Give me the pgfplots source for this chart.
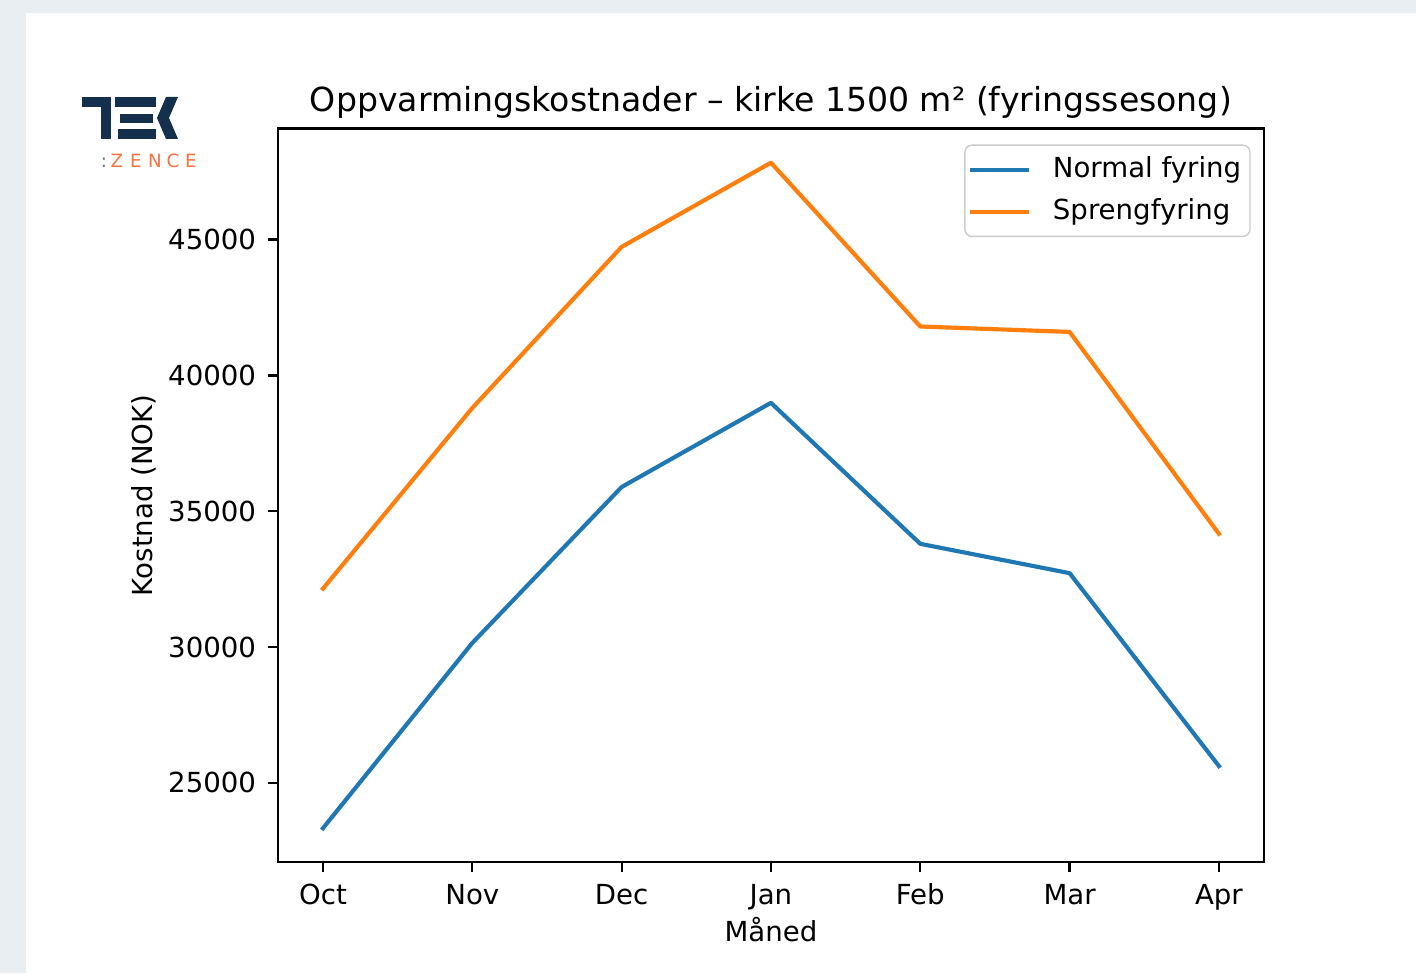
\documentclass[border=0pt]{standalone}
\usepackage{pgfplots}
\pgfplotsset{compat=1.18}
\usepackage{fontspec}
\setmainfont{DejaVu Sans}
\definecolor{pagebg}{HTML}{E8EEF1}
\definecolor{tabblue}{HTML}{1F77B4}
\definecolor{taborange}{HTML}{FF7F0E}
\definecolor{teknavy}{HTML}{14304D}
\definecolor{tekorange}{HTML}{F27443}
\newcommand{\tickfont}{\fontsize{7.85}{9}\selectfont}
\begin{document}
\begin{tikzpicture}
  \begin{scope}[x=0.01cm, y=0.01cm]
    % page background and white card (1 unit = 1 px of the screenshot)
    \fill[pagebg] (0,0) rectangle (1416,973);
    \fill[white] (26,0) rectangle (1416,960);
    % TEK logo
    \fill[teknavy] (82,876) rectangle (111,866);
    \fill[teknavy] (101,876) rectangle (111,834);
    \fill[teknavy] (115,876) rectangle (156,866);
    \fill[teknavy] (120,859) rectangle (153,850);
    \fill[teknavy] (118,844) rectangle (156,834);
    \fill[teknavy] (166,876) -- (178,876) -- (169,855) -- (178,834) -- (166,834) -- (157,855) -- cycle;
    \node[anchor=base, text=black!55, inner sep=0pt, font=\fontsize{5.2}{6}\selectfont] at (104,805) {:};
    \foreach \c/\px in {Z/117, E/136, N/155, C/173, E/191}
      \node[anchor=base, text=tekorange, inner sep=0pt, font=\fontsize{5.2}{6}\selectfont] at (\px,805) {\c};
  \end{scope}

  \begin{axis}[
      at={(2.78cm,1.11cm)}, anchor=south west,
      scale only axis, width=9.85cm, height=7.33cm,
      xmin=-0.3, xmax=6.3, ymin=22090, ymax=49088,
      xtick={0,1,2,3,4,5,6},
      xticklabels={Oct,Nov,Dec,Jan,Feb,Mar,Apr},
      ytick={25000,30000,35000,40000,45000},
      yticklabels={25000,30000,35000,40000,45000},
      scaled y ticks=false,
      tick pos=left, tick align=outside,
      major tick length=2.75pt,
      every tick/.style={black, line width=0.63pt},
      axis line style={black, line width=0.63pt},
      tick label style={font=\tickfont},
      xticklabel style={text height=5.95pt},
      label style={font=\tickfont},
      title={Oppvarmingskostnader – kirke 1500 m² (fyringssesong)},
      every axis title shift=0pt,
      title style={font=\fontsize{9.42}{11}\selectfont, at={(axis description cs:0.5,1)}, anchor=base, yshift=0.165cm},
      xlabel={Måned},
      xlabel style={at={(axis description cs:0.5,0)}, anchor=base, yshift=-0.80cm},
      ylabel={Kostnad (NOK)},
      ylabel style={at={(axis description cs:-0.136,0.5)}, anchor=center},
      legend cell align=left,
      legend image code/.code={\draw[#1, line cap=rect] (0cm,0cm) -- (0.55cm,0cm);},
      legend style={at={(axis description cs:0.9868,0.9782)}, anchor=north east,
        draw=black!20, rounded corners=2pt, fill=white, font=\tickfont,
        inner xsep=1.5pt, inner ysep=2.3pt, row sep=2.4pt, column sep=5.7pt,
        nodes={inner sep=1pt}},
    ]
    \addplot[tabblue, line width=1.18pt, line join=round, line cap=rect] coordinates {
      (0,23330) (1,30150) (2,35890) (3,38990) (4,33800) (5,32720) (6,25620)};
    \addlegendentry{Normal fyring}
    \addplot[taborange, line width=1.18pt, line join=round, line cap=rect] coordinates {
      (0,32150) (1,38800) (2,44730) (3,47830) (4,41800) (5,41600) (6,34170)};
    \addlegendentry{Sprengfyring}
  \end{axis}
\end{tikzpicture}
\end{document}
